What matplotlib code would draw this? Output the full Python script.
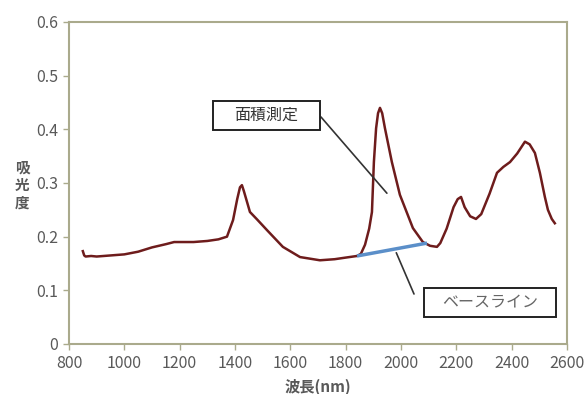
import matplotlib.pyplot as plt
from matplotlib.patches import Rectangle

plt.rcParams['font.family'] = ['Noto Sans CJK JP', 'DejaVu Sans']

# absorbance spectrum
wavelength = [850, 855, 860, 880, 900, 950, 1000, 1050, 1100, 1150, 1180, 1250, 1300,
              1340, 1371, 1393, 1408, 1418, 1425, 1432, 1445, 1454, 1480, 1516, 1573,
              1635, 1707, 1760, 1800, 1841, 1855, 1870, 1885, 1895, 1902, 1910, 1917,
              1924, 1932, 1942, 1967, 1996, 2043, 2079, 2105, 2130, 2142, 2165, 2190,
              2205, 2217, 2230, 2250, 2271, 2290, 2320, 2347, 2370, 2394, 2420, 2448,
              2465, 2484, 2502, 2520, 2531, 2545, 2556]
absorbance = [0.173, 0.165, 0.163, 0.164, 0.163, 0.165, 0.167, 0.172, 0.180, 0.186, 0.190,
              0.190, 0.192, 0.195, 0.200, 0.231, 0.270, 0.292, 0.296, 0.285, 0.262, 0.246,
              0.232, 0.212, 0.181, 0.162, 0.156, 0.158, 0.161, 0.164, 0.168, 0.185, 0.215,
              0.246, 0.339, 0.402, 0.430, 0.440, 0.430, 0.402, 0.339, 0.278, 0.216, 0.190,
              0.183, 0.181, 0.188, 0.215, 0.255, 0.270, 0.274, 0.255, 0.238, 0.233, 0.242,
              0.280, 0.319, 0.330, 0.339, 0.355, 0.377, 0.372, 0.356, 0.319, 0.274, 0.250,
              0.233, 0.225]

# baseline under the 1920 nm band
base_x = [1841, 2094]
base_y = [0.164, 0.188]

spine_col = '#aaaa8c'
text_col = '#595959'

fig = plt.figure(figsize=(5.84, 3.94), dpi=100)
ax = fig.add_axes([69 / 584, 50 / 394, 498 / 584, 322 / 394])

ax.plot(wavelength, absorbance, color='#6e1c1c', lw=1.8, solid_joinstyle='round')
ax.plot(base_x, base_y, color='#5b8fc9', lw=2.5, solid_capstyle='butt')

ax.set_xlim(800, 2600)
ax.set_ylim(0, 0.6)
ax.set_xticks(range(800, 2601, 200))
ax.set_yticks([0, 0.1, 0.2, 0.3, 0.4, 0.5, 0.6])
ax.set_yticklabels(['0', '0.1', '0.2', '0.3', '0.4', '0.5', '0.6'])
for s in ax.spines.values():
    s.set_color(spine_col)
    s.set_linewidth(1.5)
ax.tick_params(direction='out', length=4, width=1, color=spine_col,
               labelsize=11.5, labelcolor=text_col, pad=4)

ax.set_xlabel('波長(nm)', fontsize=11, fontweight='bold', color=text_col, labelpad=5)
fig.text(22 / 584, 1 - 185 / 394, '吸\n光\n度', fontsize=10.5, fontweight='bold',
         color=text_col, ha='center', va='center', linespacing=1.1)


def callout(label, left, top, right, bottom, colour):
    # box given in pixel edges of the figure
    W, H = 584, 394
    fig.add_artist(Rectangle((left / W, 1 - bottom / H), (right - left) / W,
                             (bottom - top) / H, transform=fig.transFigure,
                             fc='white', ec='#222222', lw=1.4, zorder=5))
    fig.text((left + right) / 2 / W, 1 - (top + bottom) / 2 / H, label, fontsize=11.5,
             color=colour, ha='center', va='center', zorder=6)


callout('面積測定', 213, 101, 320, 130, '#333333')
callout('ベースライン', 424, 288, 556, 317, '#666666')

# leader lines from the boxes
ax.annotate('', xy=(1949, 0.281), xycoords='data',
            xytext=(321 / 584, 1 - 117 / 394), textcoords='figure fraction',
            arrowprops=dict(arrowstyle='-', color='#333333', lw=1.2, shrinkA=0, shrinkB=0))
ax.annotate('', xy=(1983, 0.170), xycoords='data',
            xytext=(414 / 584, 1 - 294 / 394), textcoords='figure fraction',
            arrowprops=dict(arrowstyle='-', color='#333333', lw=1.2, shrinkA=0, shrinkB=0))

fig.savefig('out.png', dpi=100)
